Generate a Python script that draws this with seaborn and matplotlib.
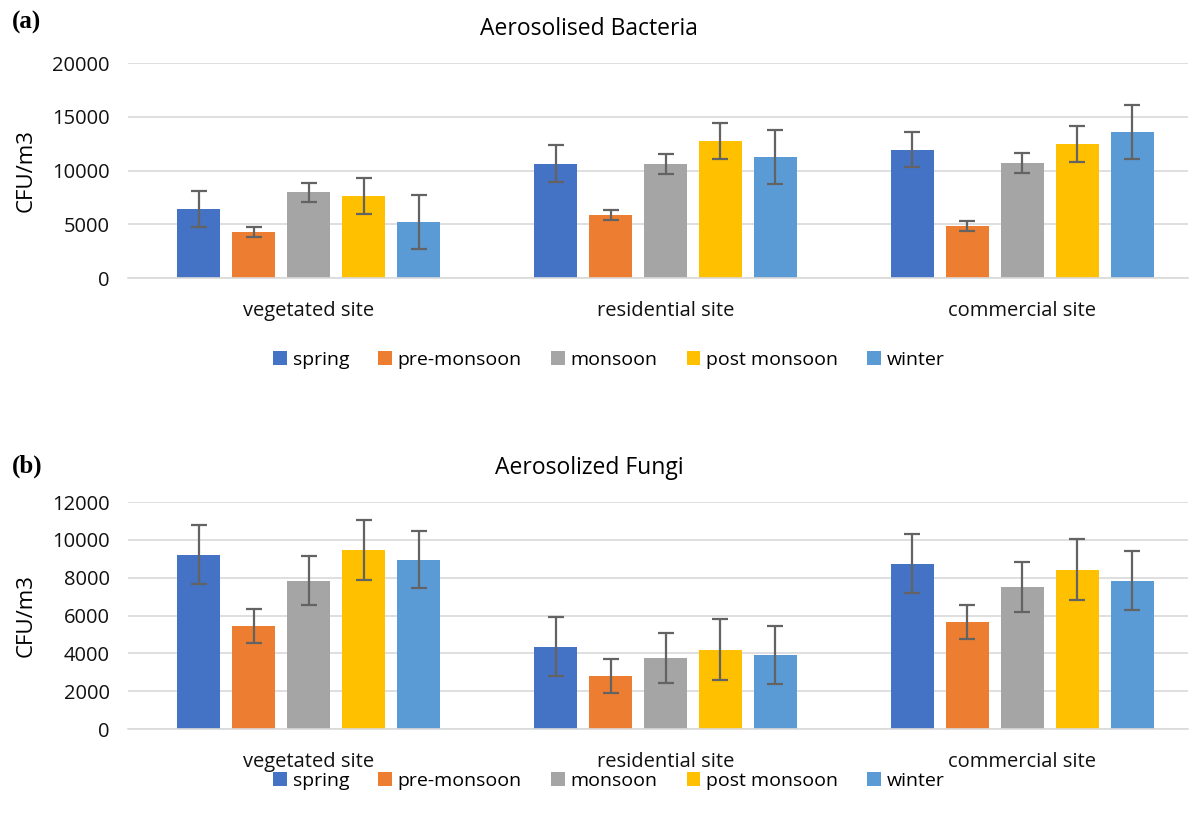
import matplotlib.pyplot as plt
import seaborn as sns
import pandas as pd

# categories and series
sites = ['vegetated site', 'residential site', 'commercial site']
seasons = ['spring', 'pre-monsoon', 'monsoon', 'post monsoon', 'winter']
colors = ['#4472C4', '#ED7D31', '#A5A5A5', '#FFC000', '#5B9BD5']

# bacteria means and errors (per season, per site)
bact_mean = {
    'spring': [6450, 10650, 11950],
    'pre-monsoon': [4250, 5870, 4850],
    'monsoon': [7970, 10620, 10700],
    'post monsoon': [7640, 12720, 12440],
    'winter': [5220, 11240, 13560],
}
bact_err = {
    'spring': [1660, 1690, 1660],
    'pre-monsoon': [465, 480, 465],
    'monsoon': [915, 915, 900],
    'post monsoon': [1650, 1660, 1670],
    'winter': [2480, 2500, 2500],
}
# fungi means and errors
fungi_mean = {
    'spring': [9210, 4350, 8740],
    'pre-monsoon': [5430, 2820, 5660],
    'monsoon': [7850, 3750, 7510],
    'post monsoon': [9460, 4190, 8420],
    'winter': [8950, 3910, 7850],
}
fungi_err = {
    'spring': [1550, 1550, 1550],
    'pre-monsoon': [900, 900, 900],
    'monsoon': [1320, 1320, 1320],
    'post monsoon': [1600, 1600, 1620],
    'winter': [1520, 1530, 1540],
}

plt.rcParams['font.family'] = ['Open Sans', 'DejaVu Sans']
fig = plt.figure(figsize=(12.01, 8.23), dpi=100)


def panel(rect, means, errs, ymax, step, title, tag, tag_y, title_y, leg_y):
    ax = fig.add_axes(rect)
    rows = []
    for s in seasons:
        for i, site in enumerate(sites):
            rows.append({'site': site, 'season': s, 'val': means[s][i]})
    df = pd.DataFrame(rows)
    sns.barplot(data=df, x='site', y='val', hue='season', order=sites,
                hue_order=seasons, palette=colors, width=0.77, gap=0.22,
                errorbar=None, saturation=1, ax=ax, zorder=2)
    # error bars on each bar
    for k, s in enumerate(seasons):
        bars = ax.containers[k]
        xs = [b.get_x() + b.get_width() / 2 for b in bars]
        ax.errorbar(xs, means[s], yerr=errs[s], fmt='none', ecolor='#636363',
                    elinewidth=1.6, capsize=6, capthick=1.6, zorder=3)
    ax.set_ylim(0, ymax)
    ax.set_xlim(-0.506, 2.464)
    ax.set_yticks(range(0, ymax + 1, step))
    ax.grid(axis='y', color='#D9D9D9', linewidth=1.2, zorder=0)
    ax.set_axisbelow(True)
    for sp in ['top', 'right', 'left']:
        ax.spines[sp].set_visible(False)
    ax.spines['bottom'].set_color('#D9D9D9')
    ax.spines['bottom'].set_linewidth(1.2)
    ax.tick_params(axis='both', length=0, labelsize=14.5, colors='#111111')
    ax.tick_params(axis='x', pad=16.5)
    ax.tick_params(axis='y', pad=13)
    ax.set_xlabel('')
    ax.set_ylabel('')
    ax.get_legend().remove()
    y_mid = rect[1] + rect[3] / 2
    fig.text(0.022, y_mid, 'CFU/m3', rotation=90, ha='center', va='center', fontsize=16)
    fig.text(0.4905, title_y, title, ha='center', va='center', fontsize=16.5)
    fig.text(0.01, tag_y, tag, ha='left', va='center', fontsize=18,
             fontweight='bold', family='Liberation Serif')
    handles, labels = ax.get_legend_handles_labels()
    fig.legend(handles, labels, loc='center', bbox_to_anchor=(0.507, leg_y), ncol=5,
               frameon=False, fontsize=14, handlelength=0.7, handleheight=0.7,
               handletextpad=0.3, columnspacing=1.5)
    return ax


panel([0.1066, 0.6622, 0.8826, 0.2612], bact_mean, bact_err, 20000, 5000,
      'Aerosolised Bacteria', '(a)', 1 - 22 / 823, 1 - 29 / 823, 1 - 360 / 823)
panel([0.1066, 0.1142, 0.8826, 0.2758], fungi_mean, fungi_err, 12000, 2000,
      'Aerosolized Fungi', '(b)', 1 - 466 / 823, 1 - 468 / 823, 1 - 781 / 823)

fig.savefig('out.png', dpi=100, facecolor='white')
